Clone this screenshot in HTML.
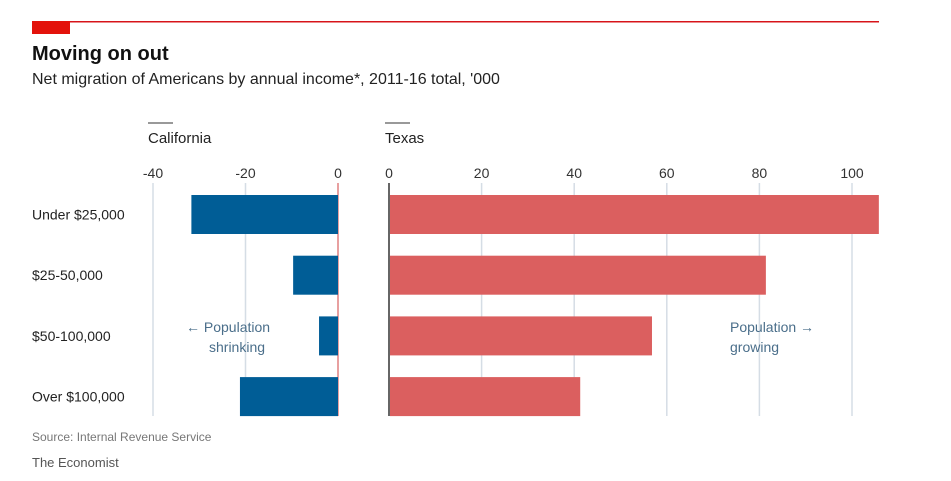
<!DOCTYPE html>
<html><head><meta charset="utf-8"><style>
body{margin:0;background:#fff;width:951px;height:476px;overflow:hidden;font-family:"Liberation Sans",sans-serif}
svg text{font-family:"Liberation Sans",sans-serif}
</style></head><body>
<svg width="951" height="476">
<rect x="32" y="21" width="847" height="1.5" fill="#d7141a"/>
<rect x="32" y="21" width="38" height="13" fill="#e3120b"/>
<text x="32" y="60" font-size="20" font-weight="bold" fill="#111">Moving on out</text>
<text x="32" y="84" font-size="16" fill="#222">Net migration of Americans by annual income*, 2011-16 total, '000</text>
<line x1="148" y1="123" x2="173" y2="123" stroke="#333"/>
<text x="148" y="143" font-size="15" fill="#222">California</text>
<line x1="385" y1="123" x2="410" y2="123" stroke="#333"/>
<text x="385" y="143" font-size="15" fill="#222">Texas</text>
<g id="g"></g>
<text x="186" y="332" font-size="14" fill="#4a6e8a">← Population</text>
<text x="209" y="352" font-size="14" fill="#4a6e8a">shrinking</text>
<text x="730" y="332" font-size="14" fill="#4a6e8a">Population →</text>
<text x="730" y="352" font-size="14" fill="#4a6e8a">growing</text>
<text x="32" y="441" font-size="12" fill="#777">Source: Internal Revenue Service</text>
<text x="32" y="467" font-size="13" fill="#555" font-family="Liberation Serif">The Economist</text>
</svg>
<script>
const categories=["Under $25,000","$25-50,000","$50-100,000","Over $100,000"];
const california=[-31.7,-9.7,-4.1,-21.2];
const texas=[105.8,81.4,56.8,41.3];
const caTicks=[-40,-20,0];
const txTicks=[0,20,40,60,80,100];
const NS="http://www.w3.org/2000/svg",g=document.getElementById('g');
const caX=v=>338+v*4.625, txX=v=>389+v*4.63;
const rowY=i=>195+i*60.7, bh=39;
function el(t,a){const e=document.createElementNS(NS,t);for(const k in a)e.setAttribute(k,a[k]);g.appendChild(e);return e;}
caTicks.forEach(t=>{
 const l=el('line',{x1:caX(t),x2:caX(t),y1:183,y2:416,stroke:t===0?'#e8a0a0':'#d5dde5','stroke-width':t===0?2:1.5});
 
 const x=el('text',{x:caX(t),y:178,'font-size':14,fill:'#333','text-anchor':'middle'});x.textContent=t===0?'0':String(t);
 
});
txTicks.forEach(t=>{
 const l=el('line',{x1:txX(t),x2:txX(t),y1:183,y2:416,stroke:t===0?'#333':'#d5dde5','stroke-width':t===0?1.5:1.5});
 
 const x=el('text',{x:txX(t),y:178,'font-size':14,fill:'#333','text-anchor':'middle'});x.textContent=String(t);
 
});
categories.forEach((c,i)=>{
 const y=rowY(i);
 const t=el('text',{x:32,y:y+bh/2+5,'font-size':14,fill:'#222'});t.textContent=c;
 
 const a=caX(california[i]),b=caX(0);
 const r=el('rect',{x:Math.min(a,b),y:y,width:Math.abs(b-a),height:bh,fill:'#005d96'});
 
 const r2=el('rect',{x:txX(0)+1,y:y,width:txX(texas[i])-txX(0)-1,height:bh,fill:'#db5f5f'});
 
});
</script>
</body></html>
